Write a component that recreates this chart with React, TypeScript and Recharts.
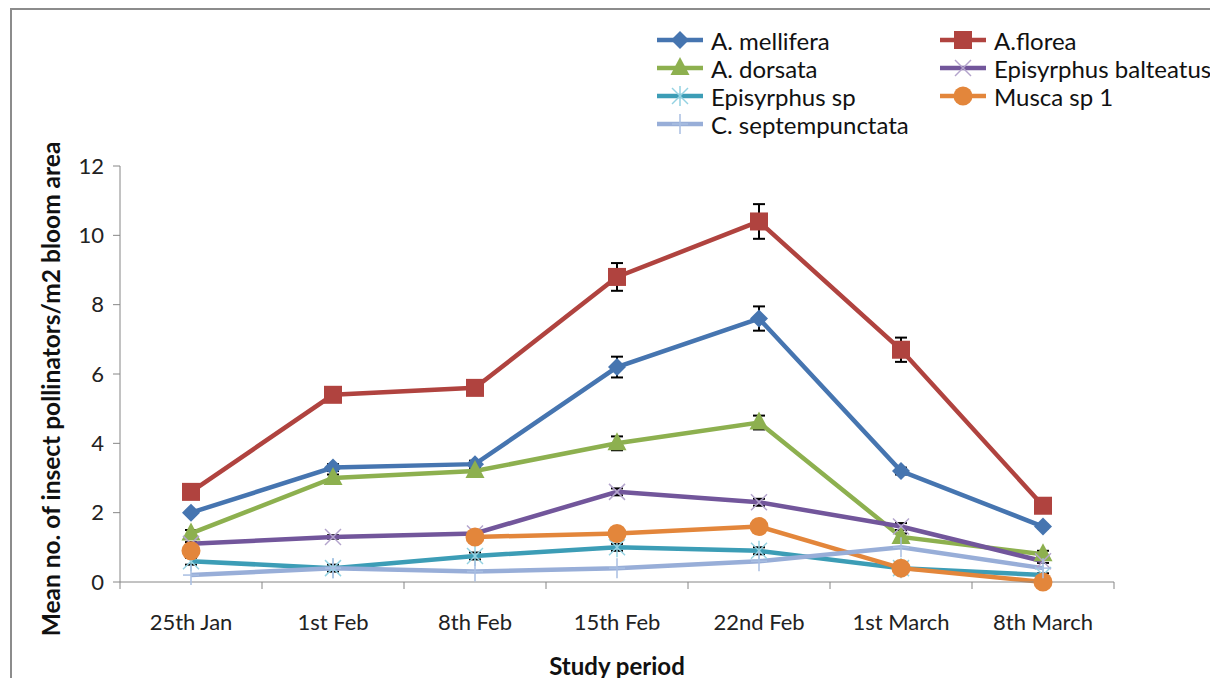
import React from "react";
import { LineChart, Line, XAxis, YAxis, ErrorBar } from "recharts";

// sampling dates
const dates = ["25th Jan", "1st Feb", "8th Feb", "15th Feb", "22nd Feb", "1st March", "8th March"];

// mean no. of pollinators per m2 bloom area
const mellifera = [2.0, 3.3, 3.4, 6.2, 7.6, 3.2, 1.6];
const florea = [2.6, 5.4, 5.6, 8.8, 10.4, 6.7, 2.2];
const dorsata = [1.4, 3.0, 3.2, 4.0, 4.6, 1.3, 0.8];
const balteatus = [1.1, 1.3, 1.4, 2.6, 2.3, 1.6, 0.6];
const episyrphusSp = [0.6, 0.4, 0.75, 1.0, 0.9, 0.4, 0.2];
const musca = [0.9, null, 1.3, 1.4, 1.6, 0.4, 0.0];
const septempunctata = [0.2, 0.4, 0.3, 0.4, 0.6, 1.0, 0.4];

// standard errors
const melliferaErr = [0.05, 0.1, 0.1, 0.3, 0.35, 0.1, 0.05];
const floreaErr = [0.05, 0.2, 0.2, 0.4, 0.5, 0.35, 0.05];
const dorsataErr = [0.1, 0.1, 0.1, 0.2, 0.2, 0.1, 0.1];
const balteatusErr = [0.05, 0.05, 0.05, 0.1, 0.1, 0.1, 0.05];
const episyrphusSpErr = [0.1, 0.1, 0.1, 0.1, 0.1, 0.05, 0.05];

const yTicks = [0, 2, 4, 6, 8, 10, 12];

const data = dates.map((date, i) => ({
    date,
    pos: i + 0.5,
    mellifera: mellifera[i],
    melliferaErr: melliferaErr[i],
    florea: florea[i],
    floreaErr: floreaErr[i],
    dorsata: dorsata[i],
    dorsataErr: dorsataErr[i],
    balteatus: balteatus[i],
    balteatusErr: balteatusErr[i],
    episyrphusSp: episyrphusSp[i],
    episyrphusSpErr: episyrphusSpErr[i],
    musca: musca[i],
    septempunctata: septempunctata[i],
}));

const FONT = "Lato, 'Open Sans', sans-serif";

type MarkerKind = "diamond" | "square" | "triangle" | "x" | "star" | "circle" | "plus";

function Marker({ kind, cx, cy, color, light }: any) {
    switch (kind) {
        case "diamond":
            return (
                <polygon
                    points={`${cx},${cy - 9} ${cx + 9},${cy} ${cx},${cy + 9} ${cx - 9},${cy}`}
                    fill={color}
                />
            );
        case "square":
            return <rect x={cx - 9} y={cy - 9} width={18} height={18} fill={color} />;
        case "triangle":
            return (
                <polygon
                    points={`${cx},${cy - 11} ${cx + 9.5},${cy + 7} ${cx - 9.5},${cy + 7}`}
                    fill={color}
                />
            );
        case "x":
            return (
                <g stroke={light} strokeWidth={1.5}>
                    <line x1={cx - 8} y1={cy - 8} x2={cx + 8} y2={cy + 8} />
                    <line x1={cx - 8} y1={cy + 8} x2={cx + 8} y2={cy - 8} />
                </g>
            );
        case "star":
            return (
                <g stroke={light} strokeWidth={1.5}>
                    <line x1={cx - 8} y1={cy - 8} x2={cx + 8} y2={cy + 8} />
                    <line x1={cx - 8} y1={cy + 8} x2={cx + 8} y2={cy - 8} />
                    <line x1={cx} y1={cy - 10} x2={cx} y2={cy + 10} />
                </g>
            );
        case "circle":
            return <circle cx={cx} cy={cy} r={9.5} fill={color} />;
        case "plus":
            return (
                <g stroke={light} strokeWidth={1.5}>
                    <line x1={cx} y1={cy - 10} x2={cx} y2={cy + 10} />
                    <line x1={cx - 8} y1={cy} x2={cx + 8} y2={cy} />
                </g>
            );
    }
    return null;
}

const series: {
    key: string;
    name: string;
    color: string;
    light: string;
    kind: MarkerKind;
    err?: string;
}[] = [
    { key: "mellifera", name: "A. mellifera", color: "#4675B0", light: "#4675B0", kind: "diamond", err: "melliferaErr" },
    { key: "florea", name: "A.florea", color: "#B0433F", light: "#B0433F", kind: "square", err: "floreaErr" },
    { key: "dorsata", name: "A. dorsata", color: "#8DB04F", light: "#8DB04F", kind: "triangle", err: "dorsataErr" },
    { key: "balteatus", name: "Episyrphus balteatus", color: "#72569B", light: "#B3A4CC", kind: "x", err: "balteatusErr" },
    { key: "episyrphusSp", name: "Episyrphus sp", color: "#3C9DB6", light: "#93D2E2", kind: "star", err: "episyrphusSpErr" },
    { key: "musca", name: "Musca sp 1", color: "#E3863B", light: "#E3863B", kind: "circle" },
    { key: "septempunctata", name: "C. septempunctata", color: "#98AED8", light: "#A8BEE2", kind: "plus" },
];

function ChartLegend() {
    return (
        <div style={{ position: "absolute", left: 0, top: 0 }}>
            {series.map((s, i) => {
                const col = i % 2;
                const row = Math.floor(i / 2);
                const left = col === 0 ? 657 : 940;
                const top = 40 + row * 28;
                return (
                    <div
                        key={s.key}
                        style={{
                            position: "absolute",
                            left,
                            top: top - 14,
                            height: 28,
                            display: "flex",
                            alignItems: "center",
                            whiteSpace: "nowrap",
                        }}
                    >
                        <svg width={48} height={28} style={{ display: "block" }}>
                            <line x1={0} y1={14} x2={46} y2={14} stroke={s.color} strokeWidth={4.5} />
                            <Marker kind={s.kind} cx={23} cy={14} color={s.color} light={s.light} />
                        </svg>
                        <span style={{ fontFamily: FONT, fontSize: 24, color: "#111", marginLeft: 6 }}>
                            {s.name}
                        </span>
                    </div>
                );
            })}
        </div>
    );
}

const axisTick = { fontFamily: FONT, fontSize: 22, fill: "#222" };

function App() {
    return (
        <div style={wrapperStyle}>
            <div style={frameStyle} />
            <LineChart
                width={1210}
                height={678}
                data={data}
                margin={{ top: 166, right: 96, left: 60, bottom: 48 }}
            >
                <XAxis
                    xAxisId="ax0"
                    dataKey="pos"
                    type="number"
                    domain={[0, 7]}
                    ticks={[0, 1, 2, 3, 4, 5, 6, 7]}
                    tickFormatter={() => ""}
                    tickSize={7}
                    height={8}
                    stroke="#868686"
                />
                <XAxis
                    xAxisId="ax1"
                    dataKey="date"
                    type="category"
                    scale="band"
                    axisLine={false}
                    tickLine={false}
                    tickSize={0}
                    tickMargin={24}
                    height={40}
                    interval={0}
                    tick={axisTick}
                />
                <YAxis
                    domain={[0, 12]}
                    ticks={yTicks}
                    width={60}
                    tickSize={7}
                    tickMargin={9}
                    stroke="#868686"
                    tick={axisTick}
                />
                {series.map((s) => (
                    <Line
                        key={s.key}
                        xAxisId="ax0"
                        dataKey={s.key}
                        name={s.name}
                        stroke={s.color}
                        strokeWidth={4.5}
                        isAnimationActive={false}
                        connectNulls={false}
                        activeDot={false}
                        dot={(p: any) =>
                            p.value == null || p.cy == null ? (
                                <g key={p.index} />
                            ) : (
                                <Marker
                                    key={p.index}
                                    kind={s.kind}
                                    cx={p.cx}
                                    cy={p.cy}
                                    color={s.color}
                                    light={s.light}
                                />
                            )
                        }
                    >
                        {s.err && (
                            <ErrorBar
                                dataKey={s.err}
                                direction="y"
                                width={6}
                                strokeWidth={2}
                                stroke="#000"
                                isAnimationActive={false}
                            />
                        )}
                    </Line>
                ))}
            </LineChart>
            <ChartLegend />
            <div style={yTitleStyle}>Mean no. of insect pollinators/m2 bloom area</div>
            <div style={xTitleStyle}>Study period</div>
        </div>
    );
}

const wrapperStyle: React.CSSProperties = {
    position: "absolute",
    left: 0,
    top: 0,
    width: 1210,
    height: 678,
    overflow: "hidden",
    background: "#fff",
};

const frameStyle: React.CSSProperties = {
    position: "absolute",
    left: 10,
    top: 8,
    width: 1240,
    height: 720,
    border: "2px solid #8c8c8c",
};

const yTitleStyle: React.CSSProperties = {
    position: "absolute",
    left: 50,
    top: 389,
    transform: "translate(-50%, -50%) rotate(-90deg)",
    fontFamily: FONT,
    fontWeight: "bold",
    fontSize: 24.5,
    color: "#111",
    whiteSpace: "nowrap",
};

const xTitleStyle: React.CSSProperties = {
    position: "absolute",
    left: 617,
    top: 665,
    transform: "translate(-50%, -50%)",
    fontFamily: FONT,
    fontWeight: "bold",
    fontSize: 24,
    color: "#111",
    whiteSpace: "nowrap",
};

export default App;
